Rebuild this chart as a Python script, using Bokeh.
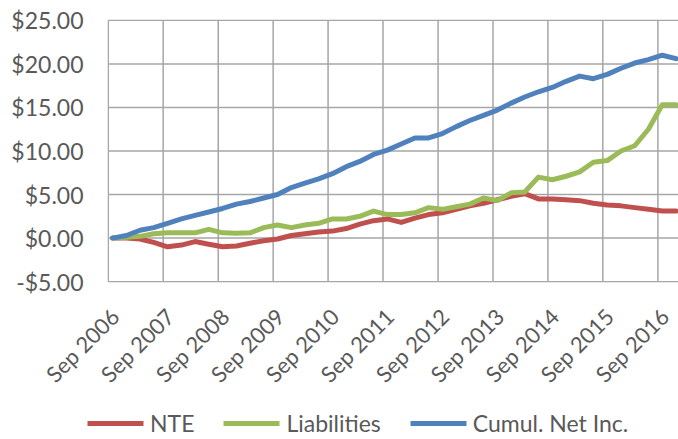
import pandas as pd
from bokeh.plotting import figure
from bokeh.layouts import column, row
from bokeh.models import Range1d, FixedTicker, Legend, LegendItem
from bokeh.embed import file_html
from bokeh.resources import INLINE

# Quarter-end dates, Sep 2006 .. Dec 2016
quarters = [(2006, 9), (2006, 12)] + [(y, m) for y in range(2007, 2017) for m in (3, 6, 9, 12)]

nte = [0.0, 0.0, -0.1, -0.5, -1.0, -0.8, -0.4, -0.7, -1.0, -0.9, -0.6, -0.3,
       -0.1, 0.3, 0.5, 0.7, 0.8, 1.1, 1.6, 2.0, 2.2, 1.8, 2.3, 2.7,
       2.9, 3.3, 3.7, 4.0, 4.4, 4.8, 5.1, 4.5, 4.5, 4.4, 4.3, 4.0,
       3.8, 3.7, 3.5, 3.3, 3.1, 3.1]
liabilities = [0.0, 0.1, 0.2, 0.5, 0.6, 0.6, 0.6, 1.0, 0.6, 0.55, 0.6, 1.2,
               1.5, 1.2, 1.5, 1.7, 2.2, 2.2, 2.5, 3.1, 2.7, 2.7, 2.9, 3.5,
               3.3, 3.6, 3.9, 4.6, 4.3, 5.2, 5.3, 7.0, 6.7, 7.1, 7.6, 8.7,
               8.9, 10.0, 10.6, 12.5, 15.3, 15.3]
cumul_net_inc = [0.0, 0.3, 0.9, 1.2, 1.7, 2.2, 2.6, 3.0, 3.4, 3.9, 4.2, 4.6,
                 5.0, 5.8, 6.3, 6.8, 7.4, 8.2, 8.8, 9.6, 10.1, 10.8, 11.5, 11.5,
                 12.0, 12.8, 13.5, 14.1, 14.7, 15.5, 16.2, 16.8, 17.3, 18.0, 18.6, 18.3,
                 18.8, 19.5, 20.1, 20.5, 21.0, 20.6]

tick_years = list(range(2006, 2017))
tick_labels = ["Sep %d" % y for y in tick_years]
y_ticks = [-5, 0, 5, 10, 15, 20, 25]
y_tick_labels = ["-$5.00", "$0.00", "$5.00", "$10.00", "$15.00", "$20.00", "$25.00"]

series_names = ["NTE", "Liabilities", "Cumul. Net Inc."]
series_colors = ["#C0504D", "#9BBB59", "#4F81BD"]

base = pd.Timestamp(2006, 9, 1)
x_days = [((pd.Timestamp(y, m, 1) + pd.offsets.MonthEnd(0)) - base).days for (y, m) in quarters]
tick_days = [(pd.Timestamp(y, 9, 1) - base).days for y in tick_years]
LABEL_SHIFT = 45  # days: nudges the rotated labels to sit like the reference
label_days = [d + LABEL_SHIFT for d in tick_days]

X_END = 3790
Y_LO, Y_HI = -5.0, 25.0

FONT = "Lato"
TXT = "#595959"
GRID = "#A6A6A6"

p = figure(frame_width=571, frame_height=263, output_backend="svg", toolbar_location=None,
           x_range=Range1d(-5, X_END), y_range=Range1d(Y_LO - 0.1, Y_HI + 0.1),
           min_border_left=107, min_border_right=0, min_border_top=19,
           min_border_bottom=123)
p.outline_line_color = None
p.background_fill_color = None
p.border_fill_color = None
p.grid.visible = False

p.xaxis.ticker = FixedTicker(ticks=label_days)
p.xaxis.major_label_overrides = {d: lab for d, lab in zip(label_days, tick_labels)}
p.xaxis.major_label_orientation = 0.785398
p.yaxis.ticker = FixedTicker(ticks=y_ticks)
p.yaxis.major_label_overrides = {t: lab for t, lab in zip(y_ticks, y_tick_labels)}

for ax in (p.xaxis, p.yaxis):
    ax.axis_line_color = None
    ax.major_tick_line_color = None
    ax.minor_tick_line_color = None
    ax.major_tick_out = 0
    ax.major_tick_in = 0
    ax.minor_tick_out = 0
    ax.major_label_text_font = FONT
    ax.major_label_text_color = TXT
p.yaxis.major_label_text_font_size = "23px"
p.yaxis.major_label_standoff = 24
p.xaxis.major_label_text_font_size = "22px"
p.xaxis.major_label_standoff = 30

# gridlines: one broken path built from the tick arrays
nan = float("nan")
gx, gy = [], []
for t in y_ticks:
    gx += [tick_days[0], X_END, nan]
    gy += [t, t, nan]
for d in tick_days:
    gx += [d, d, nan]
    gy += [Y_LO, Y_HI, nan]
p.line(gx, gy, line_color=GRID, line_width=1.5)

for vals, col in zip([nte, liabilities, cumul_net_inc], series_colors):
    p.line(x_days, vals, line_color=col, line_width=5, line_join="round", line_cap="round")

# legend strip under the chart
lg = figure(width=678, height=34, output_backend="svg", toolbar_location=None,
            x_range=Range1d(0, 1), y_range=Range1d(0, 1),
            x_axis_location=None, y_axis_location=None,
            min_border_left=0, min_border_right=0, min_border_top=0, min_border_bottom=0)
lg.outline_line_color = None
lg.background_fill_color = None
lg.border_fill_color = None
lg.grid.visible = False
items = []
for n, col in zip(series_names, series_colors):
    r = lg.rect(x=[-10], y=[-10], width=1, height=1, fill_color=col, line_color=None)
    items.append(LegendItem(label=n, renderers=[r]))
legend = Legend(items=items, orientation="horizontal", location=(80, 2),
                glyph_width=70, glyph_height=6, label_standoff=0, spacing=22,
                padding=0, margin=0, border_line_color=None, background_fill_alpha=0,
                label_text_font=FONT, label_text_font_size="23px", label_text_color=TXT,
                label_height=6)
lg.add_layout(legend, "center")

layout = column(row(p), row(lg), spacing=0)
open("out.html", "w").write(file_html(layout, INLINE))
